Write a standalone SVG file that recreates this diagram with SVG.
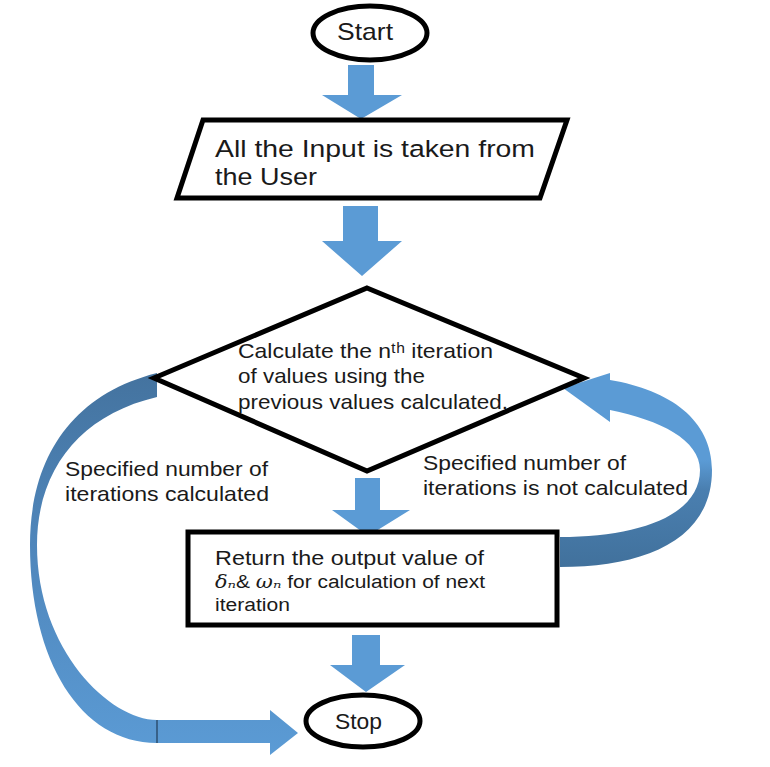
<svg xmlns="http://www.w3.org/2000/svg" width="770" height="767" viewBox="0 0 770 767">
<style>
.txt{font-family:"Liberation Sans","Arial",sans-serif;fill:#1a1a1a}
.shape{fill:#fff;stroke:#000;stroke-width:5}
.arr{fill:#5b9bd5}
.math{font-family:"DejaVu Serif","Liberation Serif",serif;font-style:italic}
</style>
<defs>
<linearGradient id="gl" x1="0" y1="0" x2="0" y2="1">
<stop offset="0" stop-color="#44739f"/>
<stop offset="0.45" stop-color="#4f86bb"/>
<stop offset="1" stop-color="#5b9bd5"/>
</linearGradient>
<linearGradient id="gr" x1="0" y1="0" x2="0" y2="1">
<stop offset="0" stop-color="#5b9bd5"/>
<stop offset="0.45" stop-color="#5b9bd5"/>
<stop offset="0.6" stop-color="#4a7fb0"/>
<stop offset="1" stop-color="#41719c"/>
</linearGradient>
</defs>
<g id="connectors">
<path class="arr" d="M348,65 H374 V95 H402 L361,119 L322,95 H348 Z"/>
<path class="arr" d="M343,206 H378 V241 H402 L362,276 L322,241 H343 Z"/>
<path class="arr" d="M355,478 H380 V510 H410 L368,536 L332,510 H355 Z"/>
<path class="arr" d="M352,635 H380 V665 H405 L366,692 L330,665 H352 Z"/>
<path fill="url(#gl)" d="M157,373 C70,395 30,460 30,545 C30,660 80,743 157,743 L270,743 L270,755 L298,733 L270,710 L270,720 L157,720 C110,720 37,650 37,545 C37,470 80,415 157,397 Z"/>
<line x1="157" y1="720" x2="157" y2="743" stroke="#2d4f70" stroke-width="1.5"/>
<path fill="url(#gr)" d="M560,567 C645,567 712,540 712,470 C712,420 670,390 610,380 L610,373 L563,388 L610,422 L610,410 C660,420 700,440 700,470 C700,515 640,537 560,537 Z"/>
</g>
<g id="start">
<ellipse class="shape" cx="370" cy="33" rx="57" ry="27"/>
<text class="txt" x="337" y="40" font-size="24" textLength="56" lengthAdjust="spacingAndGlyphs">Start</text>
</g>
<g id="input">
<polygon class="shape" points="203,120 567,120 540,198 177,198"/>
<text class="txt" x="215" y="157" font-size="24.5" textLength="320" lengthAdjust="spacingAndGlyphs">All the Input is taken from</text>
<text class="txt" x="215" y="185" font-size="24.5" textLength="102" lengthAdjust="spacingAndGlyphs">the User</text>
</g>
<g id="decision">
<polygon class="shape" points="367,288 584,378 367,471 154,378"/>
<text class="txt" x="238" y="358" font-size="21" textLength="255" lengthAdjust="spacingAndGlyphs">Calculate the nᵗʰ iteration</text>
<text class="txt" x="238" y="383" font-size="21" textLength="187" lengthAdjust="spacingAndGlyphs">of values using the</text>
<text class="txt" x="238" y="409" font-size="21" textLength="270" lengthAdjust="spacingAndGlyphs">previous values calculated.</text>
</g>
<g id="output">
<rect class="shape" x="188" y="532" width="369" height="93" stroke-width="6"/>
<text class="txt" x="215" y="565" font-size="21" textLength="269" lengthAdjust="spacingAndGlyphs">Return the output value of</text>
<text class="txt" x="215" y="588" font-size="18" textLength="270" lengthAdjust="spacingAndGlyphs"><tspan class="math">δₙ</tspan>&amp; <tspan class="math">ωₙ</tspan> for calculation of next</text>
<text class="txt" x="215" y="611" font-size="18" textLength="75" lengthAdjust="spacingAndGlyphs">iteration</text>
</g>
<g id="stop">
<ellipse class="shape" cx="363" cy="721" rx="57" ry="26"/>
<text class="txt" x="335" y="729" font-size="22" textLength="47" lengthAdjust="spacingAndGlyphs">Stop</text>
</g>
<g id="labels">
<text class="txt" x="65" y="476" font-size="21" textLength="203" lengthAdjust="spacingAndGlyphs">Specified number of</text>
<text class="txt" x="65" y="501" font-size="21" textLength="204" lengthAdjust="spacingAndGlyphs">iterations calculated</text>
<text class="txt" x="423" y="470" font-size="21" textLength="203" lengthAdjust="spacingAndGlyphs">Specified number of</text>
<text class="txt" x="423" y="495" font-size="21" textLength="265" lengthAdjust="spacingAndGlyphs">iterations is not calculated</text>
</g>
</svg>
